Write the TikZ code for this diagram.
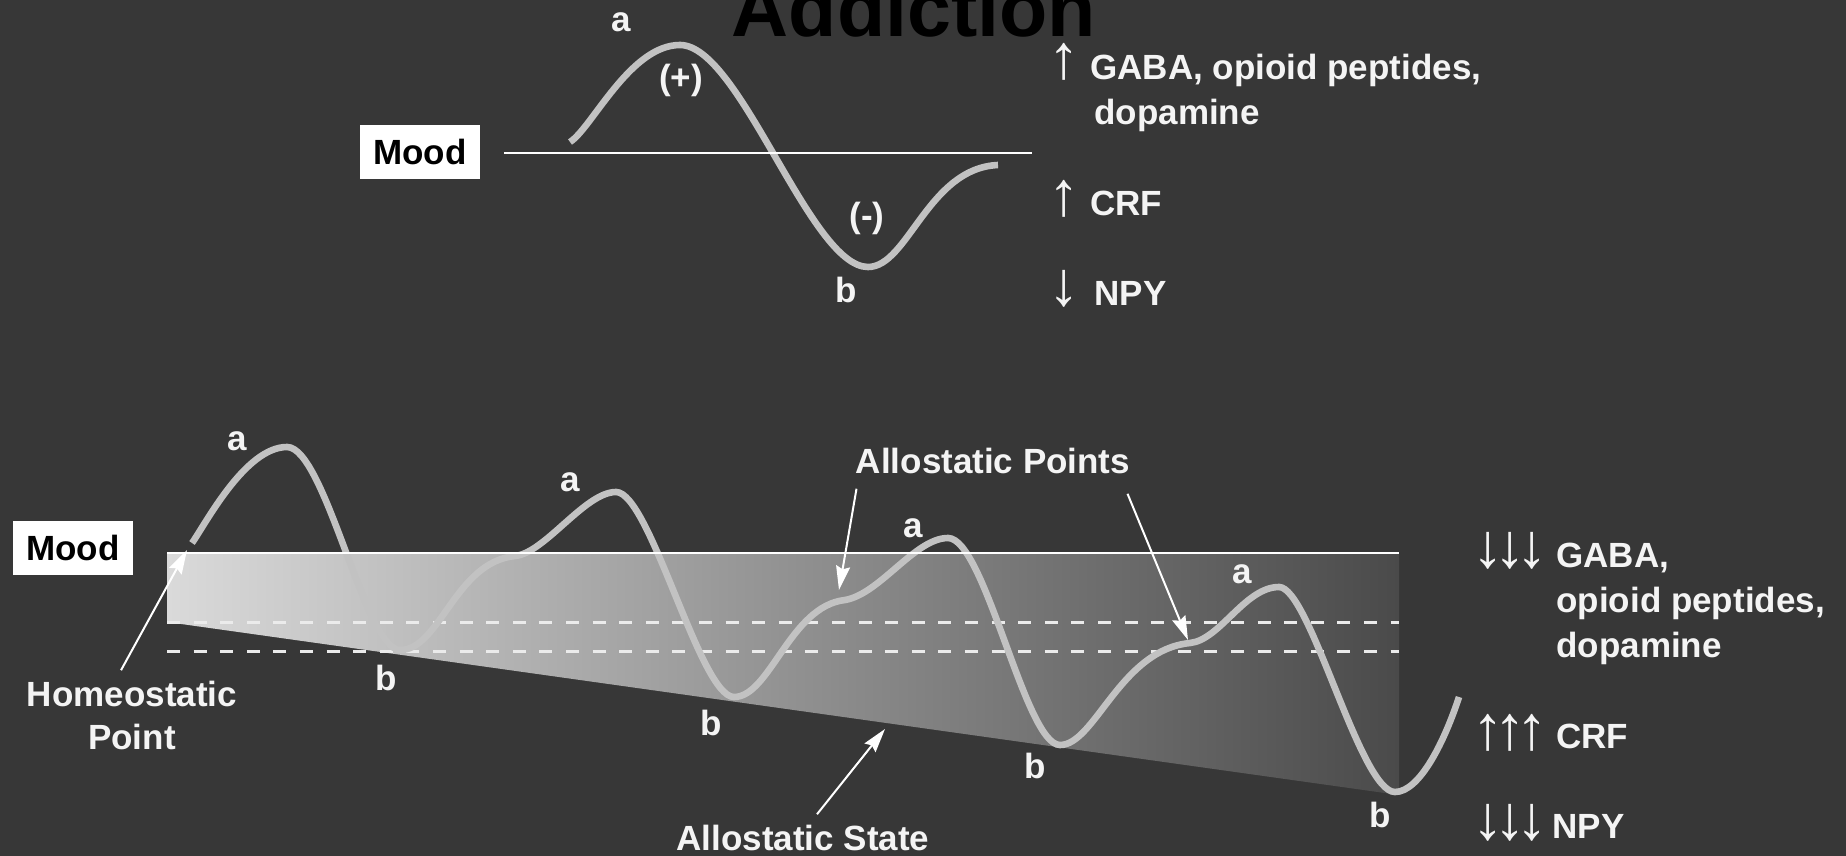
\documentclass[tikz,border=0pt]{standalone}
\usepackage{fontspec}
\setmainfont{Liberation Sans}
\usetikzlibrary{arrows.meta,calc}
\definecolor{bgc}{HTML}{373737}
\definecolor{wavec}{HTML}{C2C2C2}
\definecolor{gradl}{HTML}{DADADA}
\definecolor{gradr}{HTML}{4A4A4A}
\definecolor{txtc}{HTML}{F4F4F4}
\newcommand{\myup}{\makebox[11pt]{\resizebox*{!}{18.5pt}{↑}}}
\newcommand{\mydn}{\makebox[11pt]{\resizebox*{!}{18.5pt}{↓}}}
\begin{document}
\begin{tikzpicture}[x=0.5pt,y=-0.5pt,
  lbl/.style={text=txtc, font=\fontsize{17.5}{22.5}\selectfont\bfseries, inner sep=0pt},
  glyph/.style={text=txtc, font=\fontsize{17.5}{22.5}\selectfont\bfseries, inner sep=0pt, anchor=south},
  moodbox/.style={fill=white, text=black, font=\fontsize{17.5}{21}\selectfont\bfseries, minimum width=60pt, minimum height=27pt, inner sep=0pt},
  wave/.style={draw=wavec, line width=3.3pt},
  moodline/.style={draw=white, line width=1.2pt},
  dashline/.style={draw=white!92!black, line width=1.5pt, dash pattern=on 6.5pt off 6.8pt},
  arr/.style={draw=white, line width=1pt, -{Stealth[length=12pt,width=7pt,inset=1.5pt]}},
]
\fill[bgc] (0,0) rectangle (1846,856);
\useasboundingbox (0,0) rectangle (1846,856);

% title
\node[font=\fontsize{39.5}{40}\selectfont\bfseries, text=black, anchor=base, inner sep=0pt] (title) at (914,37) {Addiction};

% ---------- top plot ----------
\node[moodbox] (mood1) at (420,152) {Mood};
\draw[wave] (570,142) .. controls (592,128) and (630,45) .. (680,45)
  .. controls (740,45) and (810,267) .. (868,267)
  .. controls (908,267) and (928,168) .. (998,165);
\draw[moodline] (504,153) -- (1032,153);
\node[lbl, anchor=base] (a0) at (621,32) {a};
\node[lbl, anchor=base] (plus) at (681,90) {(+)};
\node[lbl, anchor=base] (minus) at (867,227) {(-)};
\node[lbl, anchor=base] (b0) at (846,302) {b};

\node[glyph] (up1) at (1064,81) {\myup};
\node[lbl, anchor=base west, align=left] (t1) at (1090,125) {GABA, opioid peptides,\\\hspace*{2pt}dopamine};
\node[glyph] (up2) at (1064,218) {\myup};
\node[lbl, anchor=base west] (crf1) at (1090,215) {CRF};
\node[glyph] (dn1) at (1064,308) {\mydn};
\node[lbl, anchor=base west] (npy1) at (1094,305) {NPY};

% ---------- bottom plot ----------
\shade[left color=gradl, right color=gradr] (167,553) -- (1399,553) -- (1399,795) -- (167,622) -- cycle;
\draw[dashline] (167,622) -- (1399,622);
\draw[dashline] (167,651) -- (1399,651);
\draw[wave] (192,543) .. controls (205,525) and (245,447) .. (287,447)
 .. controls (325,447) and (365,650) .. (400,650)
 .. controls (440,650) and (455,562) .. (515,556)
 .. controls (545,553) and (585,492) .. (616,492)
 .. controls (650,492) and (700,697) .. (734,697)
 .. controls (770,697) and (790,606) .. (845,600)
 .. controls (880,594) and (915,538) .. (948,538)
 .. controls (985,538) and (1025,745) .. (1060,745)
 .. controls (1095,745) and (1120,650) .. (1190,643)
 .. controls (1220,640) and (1245,587) .. (1279,587)
 .. controls (1310,587) and (1360,792) .. (1395,792)
 .. controls (1420,792) and (1445,740) .. (1459,697);
\draw[moodline] (167,553) -- (1399,553);
\node[moodbox] (mood2) at (73,547.5) {Mood};

\node[lbl, anchor=base] (a1) at (237,450) {a};
\node[lbl, anchor=base] (a2) at (570,491) {a};
\node[lbl, anchor=base] (a3) at (913,537) {a};
\node[lbl, anchor=base] (a4) at (1242,583) {a};
\node[lbl, anchor=base] (b1) at (386,690) {b};
\node[lbl, anchor=base] (b2) at (711,735) {b};
\node[lbl, anchor=base] (b3) at (1035,778) {b};
\node[lbl, anchor=base] (b4) at (1380,827) {b};

\node[lbl, anchor=base] (allop) at (993,473) {Allostatic Points};
\coordinate (ap1) at (839,590);
\coordinate (ap2) at (1188,640);
\draw[arr] ($(allop.south west)+(1,15)$) -- (ap1);
\draw[arr] ($(allop.south east)+(-3,20)$) -- (ap2);

\node[lbl, anchor=base] (allos) at (803,850) {Allostatic State};
\coordinate (as) at (885,729);
\draw[arr] ($(allos.north)+(14,-10)$) -- (as);

\node[lbl, align=center, anchor=base, font=\fontsize{17.5}{21.5}\selectfont\bfseries] (homeo) at (132,749) {Homeostatic\\Point};
\coordinate (hp) at (187,550);
\draw[arr] ($(homeo.north)+(-11,-10)$) -- (hp);

\node[glyph] (dn3a) at (1510,570) {\mydn\mydn\mydn};
\node[lbl, anchor=base west, align=left] (t2) at (1556,657) {GABA,\\opioid peptides,\\dopamine};
\node[glyph] (up3) at (1510,752) {\myup\myup\myup};
\node[lbl, anchor=base west] (crf2) at (1556,748) {CRF};
\node[glyph] (dn3b) at (1510,842) {\mydn\mydn\mydn};
\node[lbl, anchor=base west] (npy2) at (1552,838) {NPY};
\end{tikzpicture}
\end{document}
